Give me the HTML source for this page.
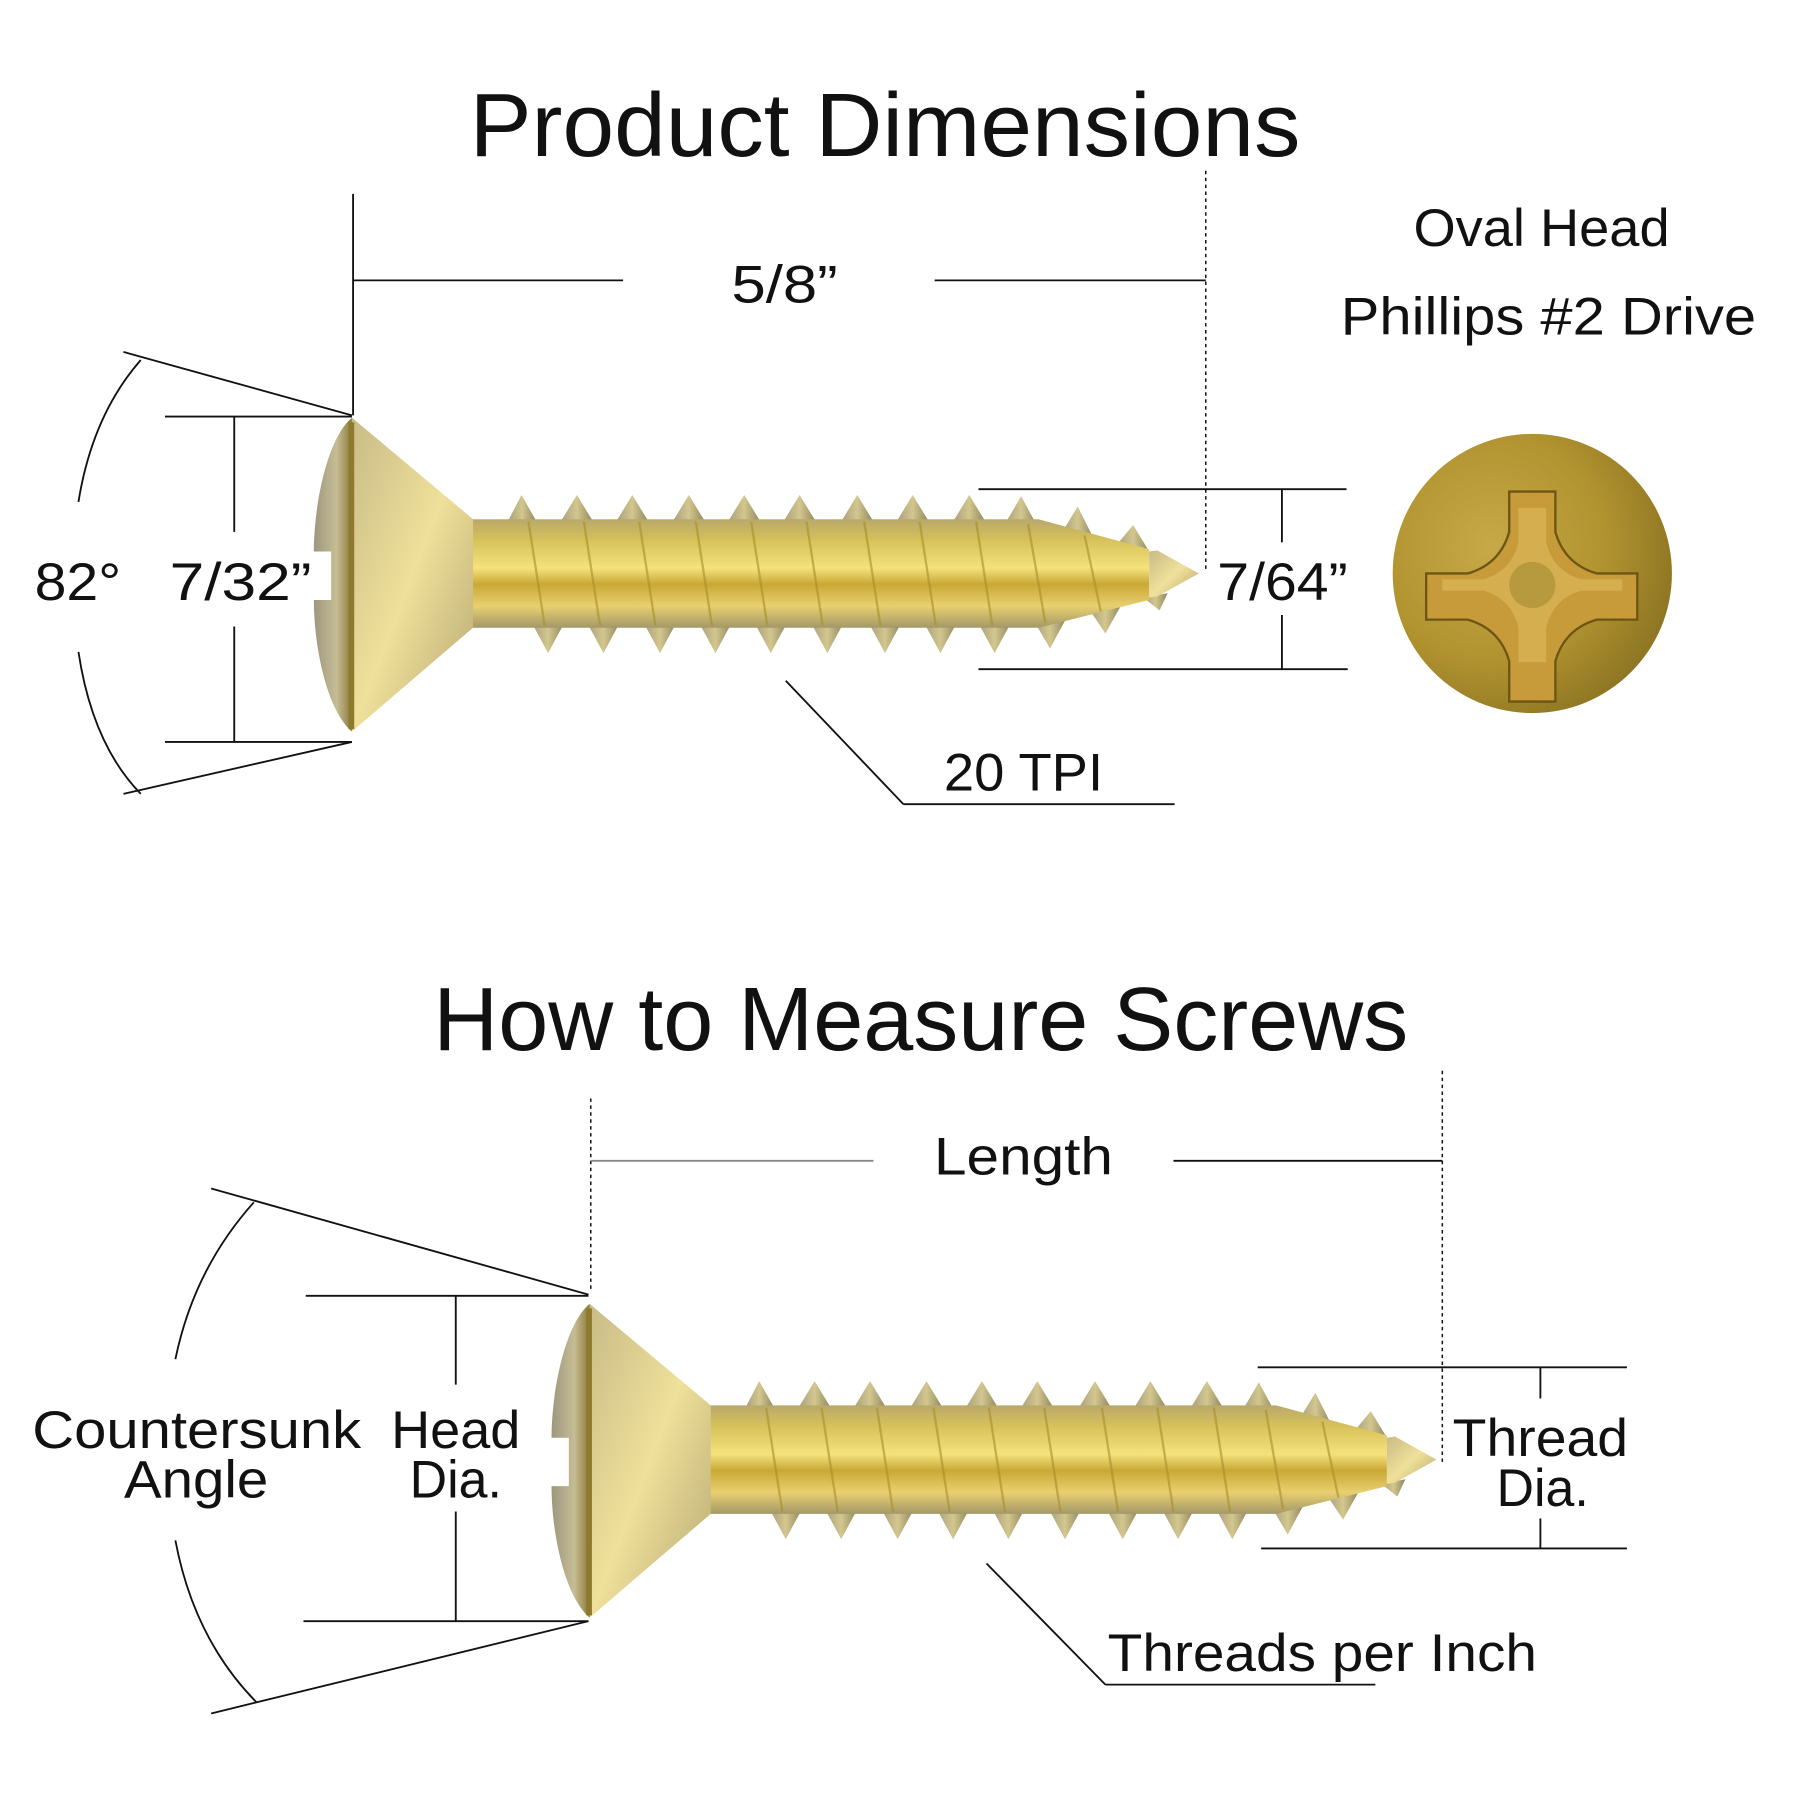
<!DOCTYPE html>
<html><head><meta charset="utf-8"><style>
html,body{margin:0;padding:0;background:#fff;}
svg{display:block}
text{font-family:"Liberation Sans",sans-serif;fill:#111;}
</style></head><body>
<svg width="1800" height="1800" viewBox="0 0 1560 1560" xmlns="http://www.w3.org/2000/svg">
<defs>
<linearGradient id="shank" x1="0" y1="0" x2="0" y2="1">
<stop offset="0" stop-color="#b9a86a"/><stop offset="0.2" stop-color="#d8c25a"/><stop offset="0.45" stop-color="#f4e27c"/><stop offset="0.6" stop-color="#c9a835"/><stop offset="0.8" stop-color="#e8d070"/><stop offset="1" stop-color="#a49868"/>
</linearGradient>
<linearGradient id="cone" x1="0" y1="0" x2="1" y2="1">
<stop offset="0" stop-color="#c8bb86"/><stop offset="0.5" stop-color="#efe09a"/><stop offset="1" stop-color="#b5a672"/>
</linearGradient>
<linearGradient id="dome" x1="0" y1="0" x2="1" y2="0">
<stop offset="0" stop-color="#9d977e"/><stop offset="0.6" stop-color="#c6bd95"/><stop offset="1" stop-color="#8a7a3a"/>
</linearGradient>
<linearGradient id="thr" x1="0" y1="0" x2="1" y2="0">
<stop offset="0" stop-color="#a79f7c"/><stop offset="0.5" stop-color="#d3c78e"/><stop offset="1" stop-color="#8f875f"/>
</linearGradient>
<radialGradient id="headc" cx="0.35" cy="0.4" r="0.7">
<stop offset="0" stop-color="#c8a948"/><stop offset="0.6" stop-color="#b0922f"/><stop offset="1" stop-color="#8b7322"/>
</radialGradient>
<g id="screw">
<!-- threads -->
<g fill="url(#thr)">
<polygon points="440,452 452,429 465,452"/>
<polygon points="486,452 500,429 514,452"/>
<polygon points="534,452 548,429 562,452"/>
<polygon points="583,452 597,429 611,452"/>
<polygon points="631,452 645,429 659,452"/>
<polygon points="679,452 693,429 707,452"/>
<polygon points="729,452 743,429 757,452"/>
<polygon points="777,452 791,429 805,452"/>
<polygon points="826,452 840,429 854,452"/>
<polygon points="871,454 885,430 899,456"/>
<polygon points="920,462 934,439 948,467"/>
<polygon points="968,472 982,455 996,478"/>
<polygon points="461,540 475,566 489,540"/>
<polygon points="509,540 523,566 537,540"/>
<polygon points="558,540 572,566 586,540"/>
<polygon points="606,540 620,566 634,540"/>
<polygon points="654,540 668,566 682,540"/>
<polygon points="703,540 717,566 731,540"/>
<polygon points="753,540 767,566 781,540"/>
<polygon points="801,540 815,566 829,540"/>
<polygon points="848,540 862,566 876,540"/>
<polygon points="896,538 910,562 924,536"/>
<polygon points="944,528 958,549 972,524"/>
<polygon points="991,518 1005,529 1012,514"/>
</g>
<!-- shank -->
<path d="M405,450 L900,450 L996,476 L996,520 L900,544 L405,544 Z" fill="url(#shank)"/>
<g stroke="#a88f2a" stroke-width="2" opacity="0.6">
<line x1="458" y1="452" x2="472" y2="542"/><line x1="506" y1="452" x2="520" y2="542"/><line x1="554" y1="452" x2="568" y2="542"/><line x1="603" y1="452" x2="617" y2="542"/><line x1="651" y1="452" x2="665" y2="542"/><line x1="699" y1="452" x2="713" y2="542"/><line x1="749" y1="452" x2="763" y2="542"/><line x1="797" y1="452" x2="811" y2="542"/><line x1="846" y1="452" x2="860" y2="542"/><line x1="891" y1="454" x2="906" y2="540"/><line x1="940" y1="464" x2="954" y2="530"/>
</g>
<!-- tip -->
<path d="M996,478 L1003,477 L1039,497 L1003,517 L996,518 Z" fill="url(#cone)"/>
<!-- cone head -->
<path d="M305,362 L410,450 L410,544 L305,634 Z" fill="url(#cone)"/>
<!-- dome -->
<path d="M305,362 C283,380 272,440 272,478 L287,478 L287,520 L272,520 C272,560 283,615 305,634 Z" fill="url(#dome)"/>
<rect x="302" y="366" width="5" height="266" fill="#8d7a2c"/>
</g>
</defs>

<!-- TOP -->
<text x="767" y="135" font-size="78" text-anchor="middle" textLength="720" lengthAdjust="spacingAndGlyphs">Product Dimensions</text>
<g stroke="#111" stroke-width="1.6" fill="none">
<line x1="306" y1="168" x2="306" y2="360"/>
<line x1="306" y1="243" x2="540" y2="243"/>
<line x1="810" y1="243" x2="1045" y2="243"/>
<line x1="1045" y1="148" x2="1045" y2="495" stroke-dasharray="3,3" stroke-width="1.3"/>
<line x1="107" y1="305" x2="305" y2="360"/>
<line x1="107" y1="688" x2="305" y2="643"/>
<path d="M122,312 Q80,360 68,435"/>
<path d="M68,565 Q80,645 122,688"/>
<line x1="143" y1="361" x2="305" y2="361"/>
<line x1="143" y1="643" x2="305" y2="643"/>
<line x1="203" y1="361" x2="203" y2="461"/>
<line x1="203" y1="543" x2="203" y2="643"/>
<line x1="848" y1="424" x2="1167" y2="424"/>
<line x1="848" y1="580" x2="1168" y2="580"/>
<line x1="1111" y1="424" x2="1111" y2="470"/>
<line x1="1111" y1="533" x2="1111" y2="580"/>
<line x1="681" y1="590" x2="783" y2="697"/>
<line x1="783" y1="697" x2="1018" y2="697"/>
</g>
<text x="680" y="262" font-size="46" text-anchor="middle" textLength="92" lengthAdjust="spacingAndGlyphs">5/8”</text>
<text x="30" y="520" font-size="46" textLength="75" lengthAdjust="spacingAndGlyphs">82°</text>
<text x="147" y="520" font-size="46" textLength="123" lengthAdjust="spacingAndGlyphs">7/32”</text>
<text x="1055" y="520" font-size="46" textLength="113" lengthAdjust="spacingAndGlyphs">7/64”</text>
<text x="818" y="685" font-size="46" textLength="138" lengthAdjust="spacingAndGlyphs">20 TPI</text>
<text x="1336" y="213" font-size="46" text-anchor="middle" textLength="222" lengthAdjust="spacingAndGlyphs">Oval Head</text>
<text x="1342" y="290" font-size="46" text-anchor="middle" textLength="360" lengthAdjust="spacingAndGlyphs">Phillips #2 Drive</text>
<use href="#screw"/>
<!-- head view -->
<circle cx="1328" cy="497" r="121" fill="url(#headc)"/>
<path d="M1308,426 h40 v35 q8,28 36,36 h35 v40 h-35 q-28,8 -36,36 v35 h-40 v-35 q-8,-28 -36,-36 h-36 v-40 h36 q28,-8 36,-36 Z" fill="#c79a3a" stroke="#6d5515" stroke-width="2"/>
<path d="M1316,440 h24 v30 q6,25 30,32 h36 v10 h-36 q-24,7 -30,32 v30 h-24 v-30 q-6,-25 -30,-32 h-36 v-10 h36 q24,-7 30,-32 Z" fill="#dcb65a" opacity="0.7"/>
<circle cx="1328" cy="507" r="20" fill="#b7993e"/>

<!-- BOTTOM -->
<text x="798" y="910" font-size="78" text-anchor="middle" textLength="845" lengthAdjust="spacingAndGlyphs">How to Measure Screws</text>
<g stroke="#111" stroke-width="1.6" fill="none">
<line x1="512" y1="952" x2="512" y2="1120" stroke-dasharray="3,3" stroke-width="1.3"/>
<line x1="512" y1="1006" x2="757" y2="1006" stroke="#888"/>
<line x1="1017" y1="1006" x2="1250" y2="1006"/>
<line x1="1250" y1="928" x2="1250" y2="1268" stroke-dasharray="3,3" stroke-width="1.3"/>
<line x1="183" y1="1030" x2="510" y2="1122"/>
<line x1="183" y1="1485" x2="510" y2="1405"/>
<path d="M220,1042 Q168,1100 152,1178"/>
<path d="M152,1335 Q168,1420 222,1475"/>
<line x1="265" y1="1123" x2="510" y2="1123"/>
<line x1="263" y1="1405" x2="510" y2="1405"/>
<line x1="395" y1="1123" x2="395" y2="1200"/>
<line x1="395" y1="1310" x2="395" y2="1405"/>
<line x1="1090" y1="1185" x2="1410" y2="1185"/>
<line x1="1093" y1="1342" x2="1410" y2="1342"/>
<line x1="1335" y1="1185" x2="1335" y2="1212"/>
<line x1="1335" y1="1316" x2="1335" y2="1342"/>
<line x1="855" y1="1355" x2="958" y2="1460"/>
<line x1="958" y1="1460" x2="1192" y2="1460"/>
</g>
<text x="887" y="1018" font-size="46" text-anchor="middle" textLength="155" lengthAdjust="spacingAndGlyphs">Length</text>
<text x="28" y="1255" font-size="46" textLength="285" lengthAdjust="spacingAndGlyphs">Countersunk</text>
<text x="170" y="1298" font-size="46" text-anchor="middle" textLength="125" lengthAdjust="spacingAndGlyphs">Angle</text>
<text x="395" y="1255" font-size="46" text-anchor="middle" textLength="112" lengthAdjust="spacingAndGlyphs">Head</text>
<text x="395" y="1298" font-size="46" text-anchor="middle" textLength="80" lengthAdjust="spacingAndGlyphs">Dia.</text>
<text x="1335" y="1262" font-size="46" text-anchor="middle" textLength="152" lengthAdjust="spacingAndGlyphs">Thread</text>
<text x="1337" y="1305" font-size="46" text-anchor="middle" textLength="80" lengthAdjust="spacingAndGlyphs">Dia.</text>
<text x="960" y="1448" font-size="46" textLength="372" lengthAdjust="spacingAndGlyphs">Threads per Inch</text>
<use href="#screw" transform="translate(206,768)"/>
</svg>
</body></html>
